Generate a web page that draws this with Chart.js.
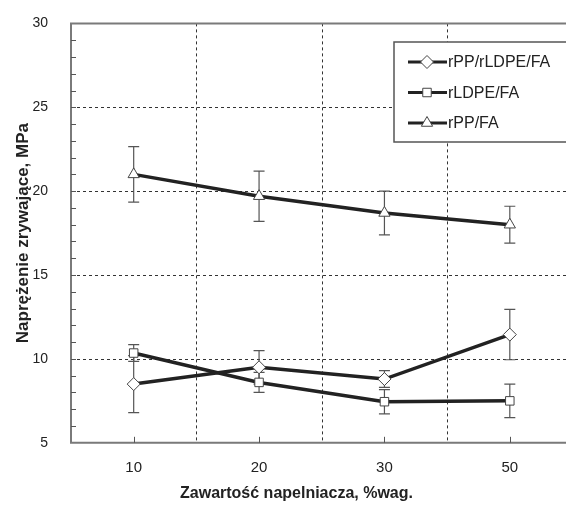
<!DOCTYPE html>
<html>
<head>
<meta charset="utf-8">
<script src="https://cdn.jsdelivr.net/npm/chart.js@4"></script>
<style>
  html, body { margin: 0; padding: 0; background: #fff; overflow: hidden; }
  #wrap { width: 580px; height: 506px; }
</style>
</head>
<body>
<div id="wrap"><canvas id="chart" width="580" height="506"></canvas></div>
<script>
// data
var categories = ["10", "20", "30", "50"];
var labels = ["rPP/rLDPE/FA", "rLDPE/FA", "rPP/FA"];
var blendValues = [8.5, 9.5, 8.8, 11.45];
var blendErrors = [1.7, 1.0, 0.5, 1.5];
var ldpeValues = [10.35, 8.6, 7.45, 7.5];
var ldpeErrors = [0.5, 0.6, 0.72, 1.0];
var ppValues = [21.0, 19.7, 18.7, 18.0];
var ppErrors = [1.65, 1.5, 1.3, 1.1];
var yTicks = [5, 10, 15, 20, 25, 30];

var FONT = "'Liberation Sans', Arial, sans-serif";

function pointStyleFor(i) {
  return ["rectRot", "rect", "triangle"][i];
}

// error bars drawn through the scales
var errorBars = {
  id: "errorBars",
  beforeDatasetsDraw(chart) {
    var ctx = chart.ctx;
    var xs = chart.scales.x, ys = chart.scales.y;
    ctx.save();
    ctx.strokeStyle = "#555";
    ctx.lineWidth = 1.2;
    chart.data.datasets.forEach(function (ds) {
      ds.data.forEach(function (v, i) {
        var e = ds.errors[i];
        var x = xs.getPixelForValue(i);
        var y1 = ys.getPixelForValue(v + e);
        var y2 = ys.getPixelForValue(v - e);
        ctx.beginPath();
        ctx.moveTo(x, y1); ctx.lineTo(x, y2);
        ctx.moveTo(x - 5.5, y1); ctx.lineTo(x + 5.5, y1);
        ctx.moveTo(x - 5.5, y2); ctx.lineTo(x + 5.5, y2);
        ctx.stroke();
      });
    });
    ctx.restore();
  }
};

// dashed grid, frame, inward ticks and boxed legend
var frame = {
  id: "frame",
  beforeDatasetsDraw(chart) {
    var ctx = chart.ctx, a = chart.chartArea;
    var xs = chart.scales.x, ys = chart.scales.y;
    ctx.save();
    ctx.strokeStyle = "#333";
    ctx.lineWidth = 1;
    ctx.setLineDash([3, 3]);
    ctx.beginPath();
    yTicks.forEach(function (v) {
      if (v === 5 || v === 30) return;
      var y = Math.round(ys.getPixelForValue(v)) + 0.5;
      ctx.moveTo(a.left, y); ctx.lineTo(a.right, y);
    });
    for (var i = 0; i < categories.length - 1; i++) {
      var gx = Math.round(xs.getPixelForValue(i + 0.5)) + 0.5;
      ctx.moveTo(gx, a.top); ctx.lineTo(gx, a.bottom);
    }
    ctx.stroke();
    ctx.setLineDash([]);
    ctx.strokeStyle = "#7a7a7a";
    ctx.lineWidth = 2;
    ctx.beginPath();
    ctx.moveTo(a.right + 2, a.top); ctx.lineTo(a.left, a.top);
    ctx.lineTo(a.left, a.bottom); ctx.lineTo(a.right + 2, a.bottom);
    ctx.stroke();
    ctx.lineWidth = 1;
    ctx.strokeStyle = "#555";
    ctx.beginPath();
    for (var v = 6; v < 30; v++) {
      var y = Math.round(ys.getPixelForValue(v)) + 0.5;
      ctx.moveTo(a.left, y); ctx.lineTo(a.left + 5, y);
    }
    categories.forEach(function (c, i) {
      var x = Math.round(xs.getPixelForValue(i)) + 0.5;
      ctx.moveTo(x, a.bottom); ctx.lineTo(x, a.bottom - 6);
    });
    ctx.stroke();
    ctx.restore();
  },
  afterDatasetsDraw(chart) {
    var ctx = chart.ctx;
    var left = 394, top = 42, bottom = 142;
    ctx.save();
    ctx.fillStyle = "#fff";
    ctx.fillRect(left, top, 200, bottom - top);
    ctx.strokeStyle = "#555";
    ctx.lineWidth = 1.5;
    ctx.strokeRect(left, top, 200, bottom - top);
    chart.data.datasets.forEach(function (ds, i) {
      var y = 62 + i * 30.5;
      ctx.strokeStyle = "#222";
      ctx.lineWidth = 3;
      ctx.beginPath();
      ctx.moveTo(408, y); ctx.lineTo(447, y);
      ctx.stroke();
      ctx.fillStyle = "#fff";
      ctx.strokeStyle = "#444";
      ctx.lineWidth = 1;
      Chart.helpers.drawPoint(ctx, { pointStyle: ds.pointStyle, radius: ds.pointRadius, borderWidth: 1 }, 427, y);
      ctx.fillStyle = "#222";
      ctx.font = "16px " + FONT;
      ctx.textBaseline = "middle";
      ctx.fillText(ds.label, 448, y + 1);
    });
    ctx.restore();
  }
};

function makeSet(i, values, errors) {
  return {
    label: labels[i],
    data: values,
    errors: errors,
    borderColor: "#222",
    borderWidth: 3.5,
    pointStyle: pointStyleFor(i),
    pointRadius: i === 1 ? 6 : 6.5,
    pointBackgroundColor: "#fff",
    pointBorderColor: "#444",
    pointBorderWidth: 1,
    tension: 0,
    fill: false
  };
}

new Chart(document.getElementById("chart").getContext("2d"), {
  type: "line",
  data: {
    labels: categories,
    datasets: [
      makeSet(0, blendValues, blendErrors),
      makeSet(1, ldpeValues, ldpeErrors),
      makeSet(2, ppValues, ppErrors)
    ]
  },
  plugins: [frame, errorBars],
  options: {
    responsive: false,
    animation: false,
    layout: { padding: { left: 13, top: 22, right: 0, bottom: 0 } },
    plugins: {
      legend: { display: false },
      tooltip: { enabled: false },
      title: {
        display: true,
        position: "bottom",
        text: "Zawartość napelniacza, %wag.",
        color: "#222",
        font: { family: FONT, size: 16, weight: "bold" },
        padding: { top: 1, bottom: 3 }
      }
    },
    scales: {
      x: {
        offset: true,
        grid: { display: false },
        border: { display: false },
        ticks: { color: "#222", padding: 8, font: { family: FONT, size: 15 } },
        afterFit: function (s) { s.height = 40; }
      },
      y: {
        min: 5,
        max: 30,
        afterBuildTicks: function (s) { s.ticks = yTicks.map(function (v) { return { value: v }; }); },
        grid: { display: false },
        border: { display: false },
        ticks: { color: "#222", padding: 15, font: { family: FONT, size: 14 } },
        title: {
          display: true,
          text: "Naprężenie zrywające, MPa",
          color: "#222",
          font: { family: FONT, size: 17, weight: "bold" },
          padding: { top: 0, bottom: 0 }
        },
        afterFit: function (s) { s.width = 58; }
      }
    }
  }
});
</script>
</body>
</html>
